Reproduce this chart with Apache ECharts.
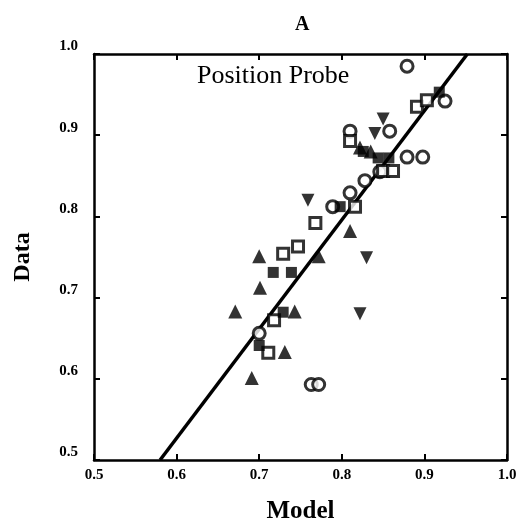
<!DOCTYPE html>
<html><head><meta charset="utf-8">
<script src="https://cdn.jsdelivr.net/npm/echarts@6/dist/echarts.min.js"></script>
<style>html,body{margin:0;padding:0;background:#fff}#c{width:521px;height:529px}</style>
</head><body><div id="c"></div>
<script>
var xTicks = [0.5, 0.6, 0.7, 0.8, 0.9, 1.0];
var yTicks = [0.5, 0.6, 0.7, 0.8, 0.9, 1.0];
var openCircles = [[0.879,0.985],[0.925,0.942],[0.858,0.905],[0.81,0.905],[0.879,0.873],[0.898,0.873],[0.828,0.844],[0.846,0.855],[0.81,0.829],[0.789,0.812],[0.70,0.656],[0.763,0.593],[0.772,0.593]];
var openSquares = [[0.891,0.935],[0.903,0.943],[0.81,0.893],[0.85,0.856],[0.862,0.856],[0.816,0.812],[0.768,0.792],[0.747,0.763],[0.729,0.754],[0.718,0.672],[0.711,0.632]];
var triUp = [[0.691,0.601],[0.671,0.683],[0.701,0.712],[0.70,0.751],[0.731,0.633],[0.743,0.683],[0.772,0.751],[0.81,0.782],[0.822,0.885],[0.835,0.88]];
var triDown = [[0.85,0.92],[0.84,0.902],[0.759,0.82],[0.83,0.749],[0.822,0.68]];
var filledSquares = [[0.717,0.731],[0.739,0.731],[0.70,0.641],[0.729,0.682],[0.798,0.812],[0.826,0.88],[0.844,0.872],[0.857,0.872],[0.918,0.953]];
var fitLine = [[0.58,0.5],[0.952,1.0]];

var serif = '"Liberation Serif", "DejaVu Serif", serif';
var chart = echarts.init(document.getElementById('c'));
function axisCommon(show){
  return {
    type:'value', min:0.5, max:1.0, interval:0.1,
    axisLine:{show:true, onZero:false, lineStyle:{color:'#000', width:2.5}},
    axisTick:{show:true, inside:true, length:6, lineStyle:{color:'#000', width:2}},
    axisLabel:{show:show, color:'#000', fontFamily:serif, fontWeight:'bold', fontSize:15,
      formatter:function(v){return v.toFixed(1);}},
    splitLine:{show:false}
  };
}
var xa = axisCommon(true);
xa.name='Model'; xa.nameLocation='middle'; xa.nameGap=39;
xa.nameTextStyle={color:'#000', fontFamily:serif, fontWeight:'bold', fontSize:25};
xa.axisLabel.margin=8;
var xTop = axisCommon(false); xTop.position='top';
var ya = axisCommon(true);
ya.name='Data'; ya.nameLocation='middle'; ya.nameGap=59;
ya.nameTextStyle={color:'#000', fontFamily:serif, fontWeight:'bold', fontSize:24};
ya.axisLabel.margin=16;
ya.axisLabel.verticalAlign='bottom';
var yRight = axisCommon(false); yRight.position='right';

function sc(name, data, symbol, filled, size){
  return {name:name, type:'scatter', data:data, symbol:symbol, symbolSize:size, xAxisIndex:0, yAxisIndex:0,
    itemStyle: filled ? {color:'#000'} : {color:'#fff', borderColor:'#000', borderWidth:3}, z:3};
}
chart.setOption({
  animation:false,
  title:{text:'A', left:290, top:10, textStyle:{color:'#000', fontFamily:serif, fontWeight:'bold', fontSize:20}},
  grid:{left:94, right:14, top:54, bottom:69, containLabel:false, outerBoundsMode:'none'},
  xAxis:[xa, xTop],
  yAxis:[ya, yRight],
  graphic:[{type:'text', left:197, top:63, style:{text:'Position Probe', fill:'#000', font:'26px '+serif}}],
  series:[
    {type:'line', data:fitLine, symbol:'none', lineStyle:{color:'#000', width:3.5}, z:2, xAxisIndex:0, yAxisIndex:0},
    sc('circles', openCircles, 'circle', false, 12),
    sc('squares', openSquares, 'rect', false, 11),
    sc('up', triUp, 'triangle', true, 14),
    sc('down', triDown, 'path://M0,0 L10,0 L5,9 Z', true, 13),
    sc('fsq', filledSquares, 'rect', true, 11)
  ]
});
</script></body></html>
